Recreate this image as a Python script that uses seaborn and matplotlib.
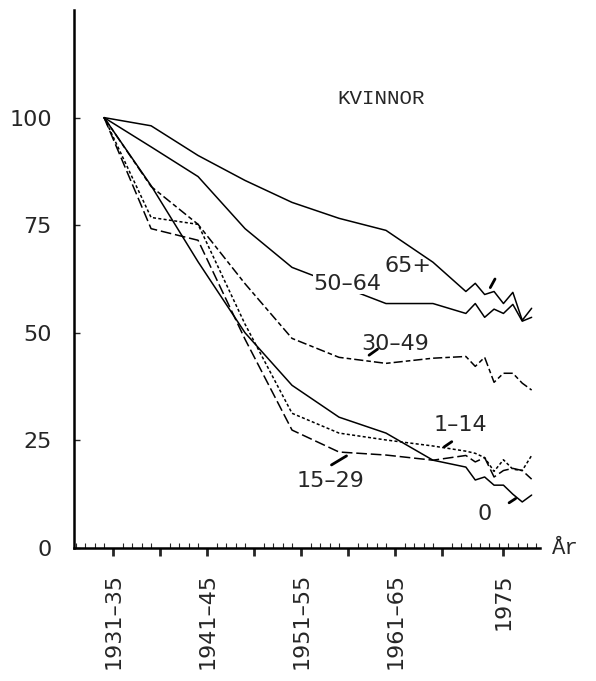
import matplotlib
matplotlib.use("Agg")
import matplotlib.pyplot as plt
import numpy as np
import pandas as pd
import seaborn as sns

# period midpoints (5-year averages) followed by single years
periods = [1933, 1938, 1943, 1948, 1953, 1958, 1963, 1968]
years = [1971, 1972, 1973, 1974, 1975, 1976, 1977, 1978]

# index, 1931-35 = 100
v_0 = [100, 84.2, 66.5, 50.0, 37.8, 30.4, 26.7, 20.4,
       18.8, 15.8, 16.5, 14.6, 14.6, 12.5, 10.7, 12.3]
v_1_14 = [100, 76.8, 75.2, 52.0, 31.3, 26.7, 25.1, 23.7,
          22.5, 22.0, 21.0, 17.8, 20.5, 18.3, 18.0, 21.5]
v_15_29 = [100, 74.2, 71.5, 48.5, 27.4, 22.3, 21.6, 20.4,
           21.5, 20.0, 21.0, 16.5, 18.0, 18.5, 18.0, 16.0]
v_30_49 = [100, 84.0, 75.2, 61.4, 48.7, 44.3, 42.9, 44.1,
           44.5, 42.2, 44.3, 38.5, 40.6, 40.6, 38.3, 36.7]
v_50_64 = [100, 93.2, 86.3, 74.2, 65.2, 61.0, 56.8, 56.8,
           54.5, 56.8, 53.6, 55.5, 54.5, 56.6, 52.7, 53.6]
v_65 = [100, 98.1, 91.2, 85.4, 80.3, 76.6, 73.8, 66.4,
        59.6, 61.5, 58.9, 59.6, 56.8, 59.4, 52.9, 55.7]

groups = ["0", "1–14", "15–29", "30–49", "50–64", "65+"]
series = [v_0, v_1_14, v_15_29, v_30_49, v_50_64, v_65]

x = periods + [y + 0.5 for y in years]  # single years drawn at mid-year
rows = []
for g, vals in zip(groups, series):
    for xi, v in zip(x, vals):
        rows.append({"år": xi, "index": v, "grupp": g})
df = pd.DataFrame(rows)

sns.set_style("white")
plt.rcParams["font.family"] = ["DejaVu Sans"]

fig = plt.figure(figsize=(5.96, 6.81), dpi=100)
ax = fig.add_axes([0.1242, 0.1953, 0.782, 0.79])

dashes = {
    "0": "",
    "1–14": (2, 1.5),
    "15–29": (7, 2.5),
    "30–49": (6, 2, 3, 2),
    "50–64": "",
    "65+": "",
}
sns.lineplot(data=df, x="år", y="index", hue="grupp", style="grupp",
             palette=["black"] * 6, dashes=dashes, linewidth=1.1,
             legend=False, ax=ax, sort=False)

ax.set_xlim(1929.8, 1979.4)
ax.set_ylim(0, 125)
ax.set_xlabel("")
ax.set_ylabel("")

for s in ["top", "right"]:
    ax.spines[s].set_visible(False)
for s in ["left", "bottom"]:
    ax.spines[s].set_linewidth(1.8)
    ax.spines[s].set_color("black")

ax.set_yticks([0, 25, 50, 75, 100])
ax.tick_params(axis="y", direction="in", length=4, width=1, pad=16,
               labelsize=16, left=True)

major = [1934, 1939, 1944, 1949, 1954, 1959, 1964, 1969, 1975.5]
labels = ["1931–35", "", "1941–45", "", "1951–55", "", "1961–65", "", "1975"]
ax.set_xticks(major)
ax.set_xticklabels(labels, rotation=90)
ax.set_xticks(np.arange(1930, 1980), minor=True)
ax.tick_params(axis="x", which="major", direction="out", length=6, width=2,
               pad=12, labelsize=16, bottom=True)
ax.tick_params(axis="x", which="minor", direction="in", length=3.5, width=0.8,
               bottom=True)

# curve labels with small pointers
lab = dict(fontsize=16, ha="center", va="center")
ax.text(1965.3, 65.5, "65+", **lab)
ax.text(1958.9, 61.4, "50–64", zorder=5,
        bbox=dict(facecolor="white", edgecolor="none", pad=0.5), **lab)
ax.text(1964.0, 47.5, "30–49", **lab)
ax.text(1970.9, 28.5, "1–14", **lab)
ax.text(1957.1, 15.5, "15–29", **lab)
ax.text(1973.5, 8, "0", **lab)
ptr = dict(color="black", lw=2)
ax.plot([1974.1, 1974.6], [60.5, 62.5], **ptr)
ax.plot([1961.2, 1962.1], [44.8, 46.2], **ptr)
ax.plot([1969.2, 1970.0], [23.5, 24.7], **ptr)
ax.plot([1957.2, 1958.8], [19.3, 21.4], **ptr)
ax.plot([1976.1, 1976.8], [10.5, 11.5], **ptr)

ax.text(1962.5, 104.5, "KVINNOR", fontsize=15, family="Liberation Mono",
        ha="center", va="center")
ax.text(1.026, 0, "År", transform=ax.transAxes, fontsize=16,
        family="Liberation Mono", ha="left", va="center")

fig.savefig("out.png", dpi=100)
